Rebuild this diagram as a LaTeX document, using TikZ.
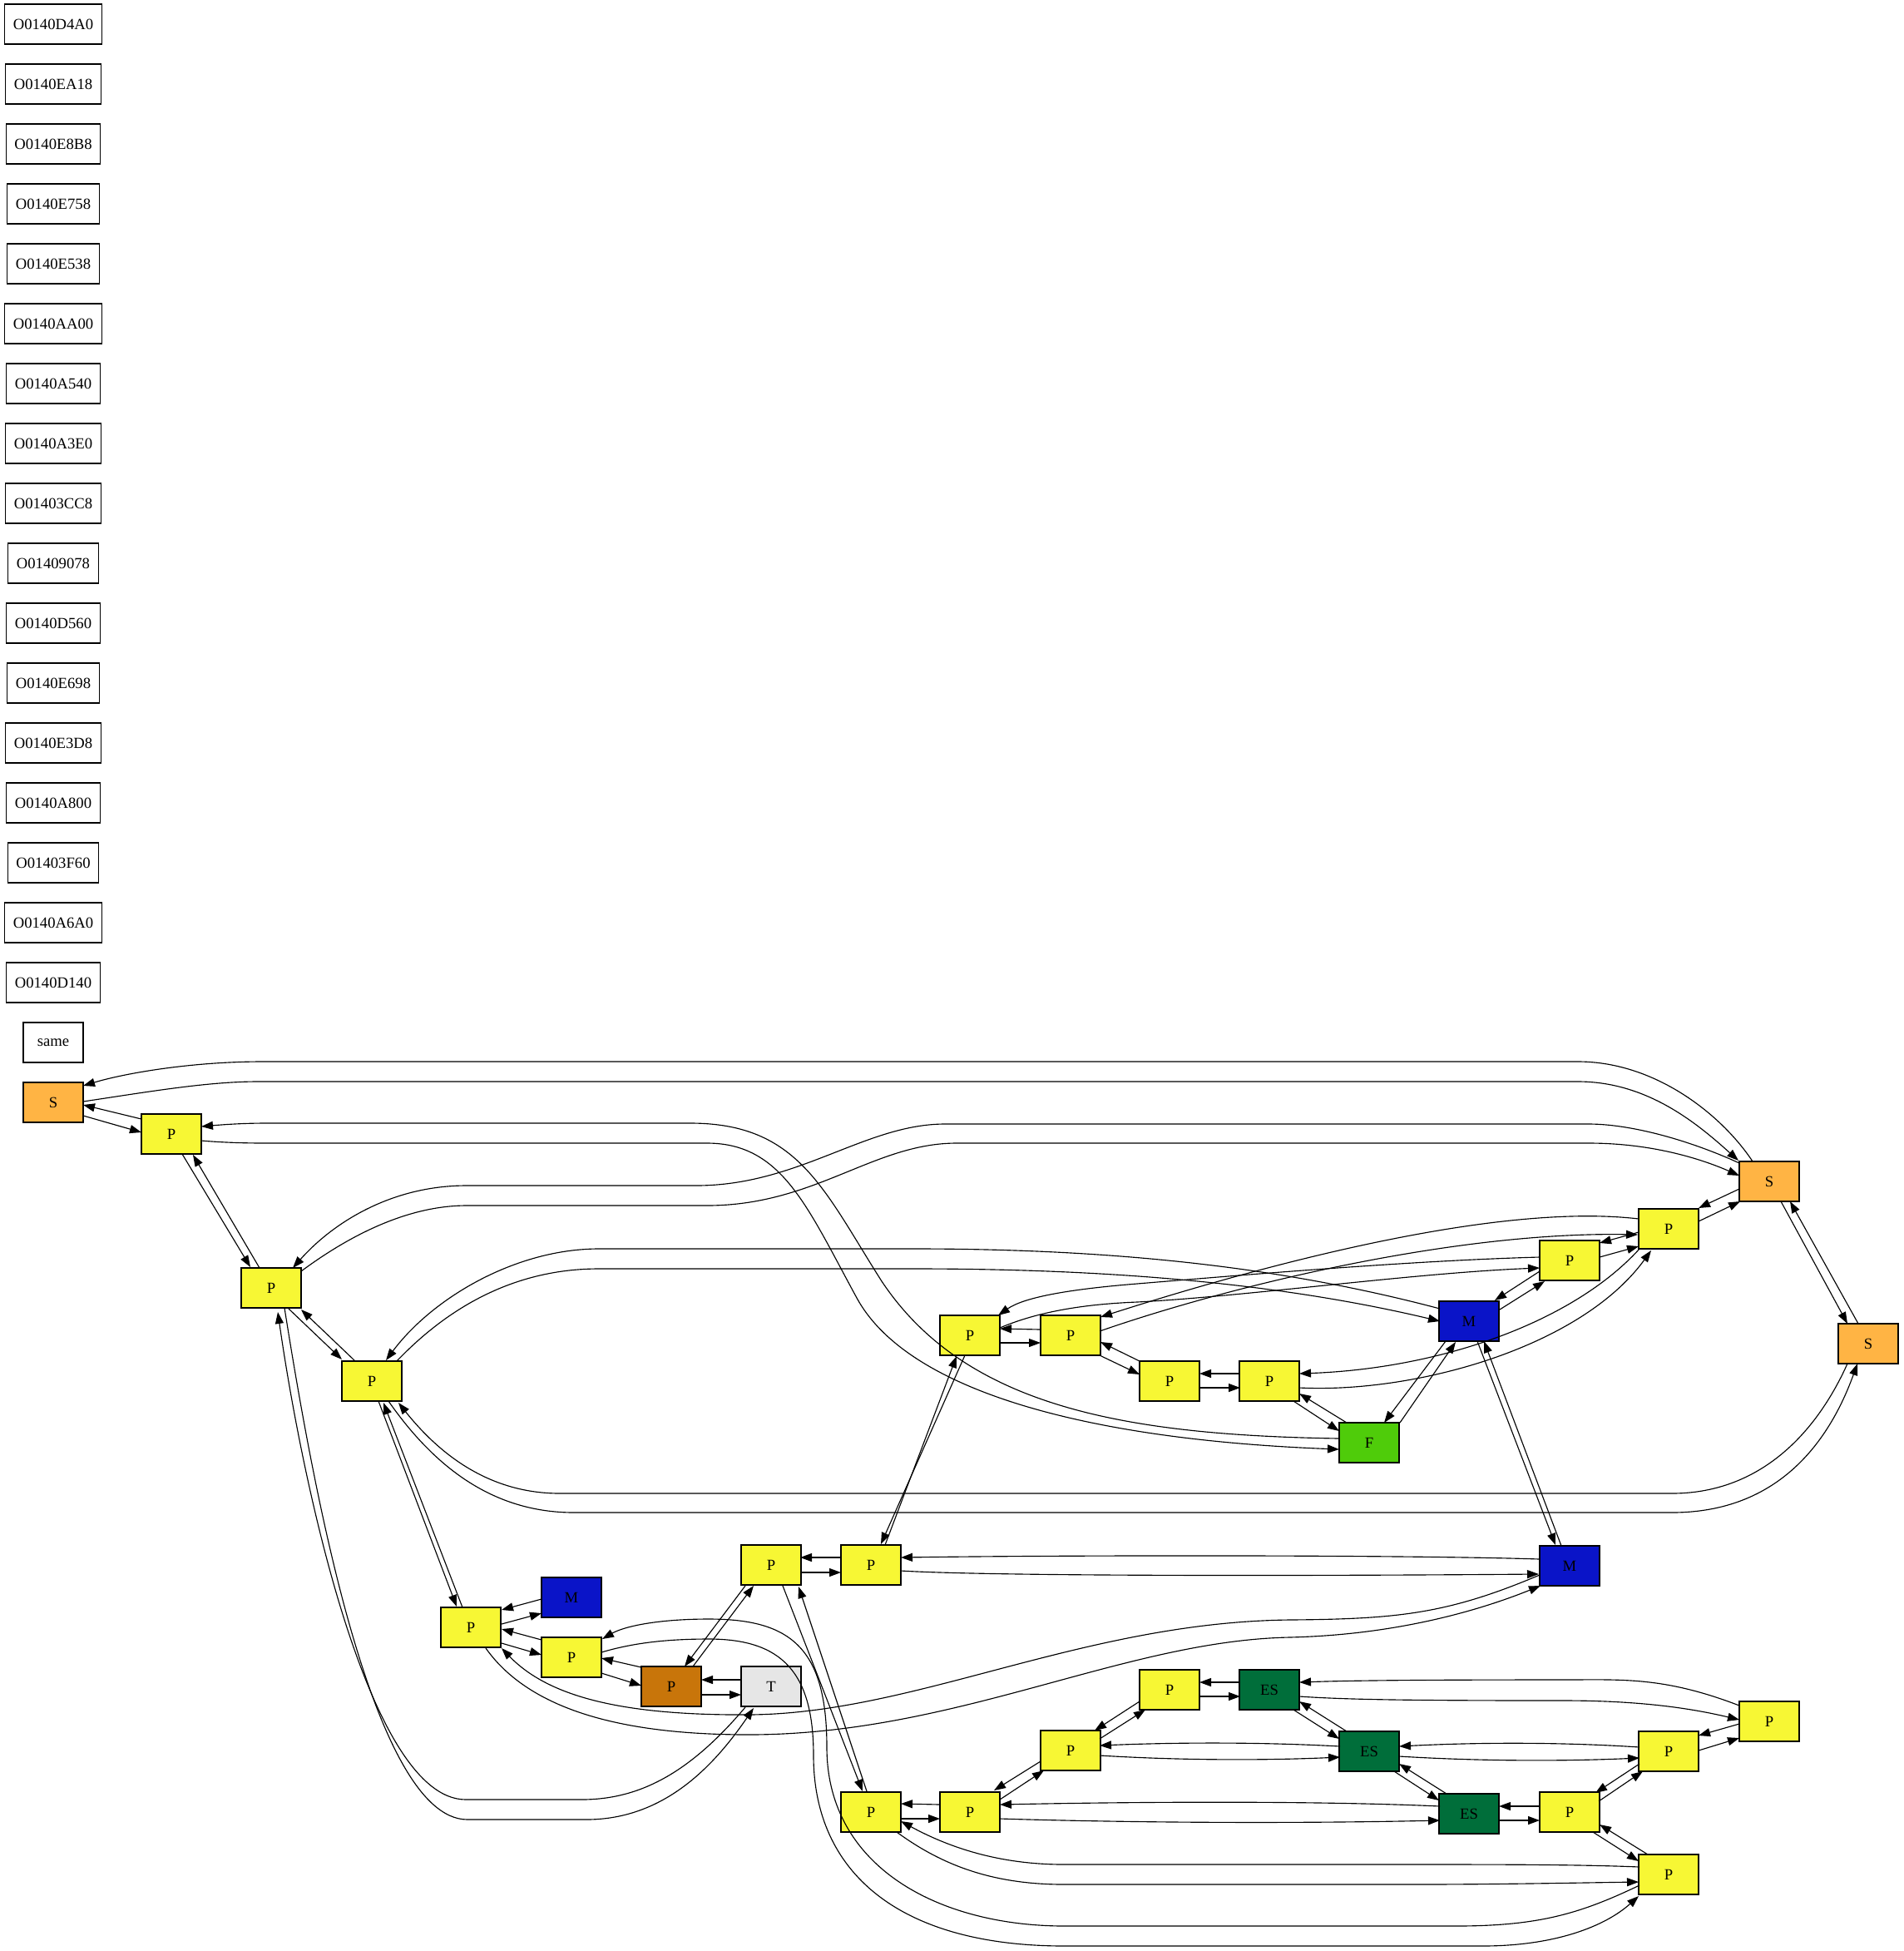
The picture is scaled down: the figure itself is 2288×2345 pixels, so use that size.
\documentclass[tikz,border=0pt]{standalone}
\usepackage{fontspec}
\setmainfont{Liberation Serif}
\usetikzlibrary{arrows.meta,calc}
\definecolor{pyel}{HTML}{F7F734}
\definecolor{sor}{HTML}{FFB444}
\definecolor{mblue}{HTML}{0A14C8}
\definecolor{fgreen}{HTML}{4FCC0A}
\definecolor{esgreen}{HTML}{006E3A}
\definecolor{pbrown}{HTML}{C8750A}
\definecolor{tgrey}{HTML}{E6E6E6}
\begin{document}
\begin{tikzpicture}[x=0.75pt,y=-0.75pt,
  nd/.style={draw=black, line width=0.8pt, rectangle, minimum width=54pt, minimum height=36pt, inner xsep=7.5pt, inner ysep=0pt, font=\fontsize{14}{16}\selectfont},
  obox/.style={nd, fill=white},
  pbox/.style={nd, fill=pyel},
  sbox/.style={nd, fill=sor},
  mbox/.style={nd, fill=mblue},
  fbox/.style={nd, fill=fgreen},
  esbox/.style={nd, fill=esgreen},
  brbox/.style={nd, fill=pbrown},
  tbox/.style={nd, fill=tgrey},
  ed/.style={draw=black, line width=0.85pt, -{Triangle[length=10.5pt,width=7.5pt]}}]
\fill[white] (0,0) rectangle (2288,2345);
\path[use as bounding box] (0,0) rectangle (2288,2345);

% column of labelled boxes
\foreach \t [count=\i from 0] in {O0140D4A0,O0140EA18,O0140E8B8,O0140E758,O0140E538,O0140AA00,O0140A540,O0140A3E0,O01403CC8,O01409078,O0140D560,O0140E698,O0140E3D8,O0140A800,O01403F60,O0140A6A0,O0140D140,same}
  \node[obox] (O\i) at (64,29+72*\i) {\t};

% nodes
\node[sbox] (S1) at (64,1325) {S};
\node[pbox] (Pa) at (206,1363) {P};
\node[pbox] (Pb) at (326,1548) {P};
\node[pbox] (Pc) at (447,1660) {P};
\node[sbox] (S2) at (2127,1420) {S};
\node[sbox] (S3) at (2246,1615) {S};
\node[pbox] (Pd) at (2006,1477) {P};
\node[pbox] (Pe) at (1887,1515) {P};
\node[mbox] (M1) at (1766,1588) {M};
\node[pbox] (Pf) at (1166,1605) {P};
\node[pbox] (Pg) at (1287,1605) {P};
\node[pbox] (Ph) at (1406,1660) {P};
\node[pbox] (Pi) at (1526,1660) {P};
\node[fbox] (F) at (1646,1734) {F};
\node[mbox] (M3) at (1887,1882) {M};
\node[pbox] (Pl) at (927,1881) {P};
\node[pbox] (Pm) at (1047,1881) {P};
\node[pbox] (Pj) at (566,1956) {P};
\node[mbox] (M2) at (687,1920) {M};
\node[pbox] (Pk) at (687,1992) {P};
\node[brbox] (Pbr) at (807,2027) {P};
\node[tbox] (T) at (927,2027) {T};
\node[pbox] (Pq) at (1406,2031) {P};
\node[esbox] (ES1) at (1526,2031) {ES};
\node[pbox] (Pt) at (2127,2069) {P};
\node[pbox] (Pp) at (1287,2104) {P};
\node[esbox] (ES2) at (1646,2105) {ES};
\node[pbox] (Ps) at (2006,2105) {P};
\node[pbox] (Pn) at (1047,2178) {P};
\node[pbox] (Po) at (1166,2178) {P};
\node[esbox] (ES3) at (1766,2180) {ES};
\node[pbox] (Pr) at (1887,2178) {P};
\node[pbox] (Pu) at (2006,2253) {P};

% S1 / Pa / Pb / Pc
\draw[ed] ($(S1)+(36,16)$) -- ($(Pa)+(-36,-2)$);
\draw[ed] ($(Pa)+(-36,-18)$) -- ($(S1)+(36,3)$);
\draw[ed] ($(S2)+(-20,-24)$) .. controls (2070,1340) and (1990,1276) .. (1897,1276) -- (316,1276) .. controls (230,1276) and (150,1290) .. ($(S1)+(36,-20)$);
\draw[ed] ($(S1)+(36,-1)$) .. controls (180,1312) and (250,1300) .. (310,1300) -- (1897,1300) .. controls (1980,1300) and (2040,1350) .. ($(S2)+(-37,-25)$);
\draw[ed] ($(S2)+(-36,-22)$) .. controls (2030,1370) and (1960,1351) .. (1910,1351) -- (1136,1351) .. controls (1040,1351) and (960,1425) .. (837,1425) -- (561,1425) .. controls (470,1425) and (400,1470) .. ($(Pb)+(26,-24)$);
\draw[ed] ($(Pb)+(36,-20)$) .. controls (420,1485) and (490,1449) .. (561,1449) -- (850,1449) .. controls (980,1449) and (1050,1374) .. (1150,1374) -- (1910,1374) .. controls (1990,1374) and (2050,1395) .. ($(S2)+(-36,-7)$);
\draw[ed] ($(F)+(-36,-5)$) .. controls (1350,1725) and (1160,1690) .. (1060,1540) .. controls (990,1430) and (960,1350) .. (830,1350) -- (320,1350) .. controls (290,1350) and (265,1352) .. ($(Pa)+(36,-9)$);
\draw[ed] ($(Pa)+(36,8)$) .. controls (265,1373) and (290,1374) .. (320,1374) -- (850,1374) .. controls (940,1374) and (970,1450) .. (1030,1560) .. controls (1090,1670) and (1300,1730) .. ($(F)+(-36,8)$);
\draw[ed] ($(Pa)+(13,24)$) -- ($(Pb)+(-25,-25)$);
\draw[ed] ($(Pb)+(-14,-24)$) -- ($(Pa)+(26,25)$);
\draw[ed] ($(Pb)+(21,25)$) -- ($(Pc)+(-36,-26)$);
\draw[ed] ($(Pc)+(-21,-25)$) -- ($(Pb)+(36,26)$);
\draw[ed] ($(M1)+(-35,-15)$) .. controls (1550,1525) and (1350,1501) .. (1100,1501) -- (720,1501) .. controls (620,1501) and (520,1560) .. ($(Pc)+(17,-25)$);
\draw[ed] ($(Pc)+(30,-24)$) .. controls (540,1570) and (620,1525) .. (720,1525) -- (1100,1525) .. controls (1350,1525) and (1550,1545) .. ($(M1)+(-35,0)$);
\draw[ed] ($(S3)+(-25,24)$) .. controls (2180,1730) and (2110,1795) .. (2010,1795) -- (673,1795) .. controls (590,1795) and (530,1750) .. ($(Pc)+(32,26)$);
\draw[ed] ($(Pc)+(20,24)$) .. controls (520,1760) and (590,1818) .. (690,1818) -- (2010,1818) .. controls (2140,1818) and (2200,1730) .. ($(S3)+(-13,24)$);
\draw[ed] ($(Pc)+(8,24)$) -- ($(Pj)+(-17,-25)$);
\draw[ed] ($(Pj)+(-10,-24)$) -- ($(Pc)+(14,26)$);
\draw[ed] ($(T)+(-31,25)$) .. controls (830,2130) and (770,2163) .. (699,2163) -- (560,2163) .. controls (440,2163) and (360,1760) .. ($(Pb)+(8,29)$);
\draw[ed] ($(Pb)+(16,24)$) .. controls (372,1760) and (445,2187) .. (562,2187) -- (705,2187) .. controls (800,2187) and (860,2120) .. ($(T)+(-21,26)$);

% S2 / S3 / Pd / Pe / M1 group
\draw[ed] ($(S2)+(14,24)$) -- ($(S3)+(-25,-24)$);
\draw[ed] ($(S3)+(-12,-24)$) -- ($(S2)+(25,24)$);
\draw[ed] ($(S2)+(-36,9)$) -- ($(Pd)+(36,-25)$);
\draw[ed] ($(Pd)+(36,-9)$) -- ($(S2)+(-35,24)$);
\draw[ed] ($(Pd)+(-36,4)$) -- ($(Pe)+(36,-21)$);
\draw[ed] ($(Pe)+(36,-4)$) -- ($(Pd)+(-36,21)$);
\draw[ed] ($(Pe)+(-36,13)$) -- ($(M1)+(31,-25)$);
\draw[ed] ($(M1)+(37,-14)$) -- ($(Pe)+(-30,25)$);
\draw[ed] ($(M1)+(-28,24)$) -- ($(F)+(18,-24)$);
\draw[ed] ($(F)+(37,-24)$) -- ($(M1)+(-16,25)$);
\draw[ed] ($(M1)+(10,24)$) -- ($(M3)+(-17,-25)$);
\draw[ed] ($(M3)+(-10,-24)$) -- ($(M1)+(18,24)$);
\draw[ed] ($(Pd)+(-35,24)$) .. controls (1890,1590) and (1730,1645) .. ($(Pi)+(36,-9)$);
\draw[ed] ($(Pi)+(36,8)$) .. controls (1700,1675) and (1900,1620) .. ($(Pd)+(-21,26)$);
\draw[ed] ($(Pd)+(-36,-12)$) .. controls (1800,1445) and (1520,1520) .. ($(Pg)+(36,-22)$);
\draw[ed] ($(Pg)+(35,-5)$) .. controls (1480,1545) and (1750,1480) .. ($(Pd)+(-37,7)$);
\draw[ed] ($(Pe)+(-36,-4)$) .. controls (1700,1515) and (1500,1532) .. (1367,1543) .. controls (1280,1550) and (1230,1560) .. ($(Pf)+(34,-24)$);
\draw[ed] ($(Pf)+(36,-9)$) .. controls (1240,1580) and (1290,1568) .. (1367,1565) .. controls (1500,1558) and (1700,1530) .. ($(Pe)+(-36,9)$);
\draw[ed] ($(Pg)+(-36,-7)$) -- ($(Pf)+(36,-8)$);
\draw[ed] ($(Pf)+(36,9)$) -- ($(Pg)+(-36,9)$);
\draw[ed] ($(Ph)+(-36,-24)$) -- ($(Pg)+(36,8)$);
\draw[ed] ($(Pg)+(35,24)$) -- ($(Ph)+(-36,-8)$);
\draw[ed] ($(Pi)+(-35,-9)$) -- ($(Ph)+(36,-9)$);
\draw[ed] ($(Ph)+(36,8)$) -- ($(Pi)+(-35,8)$);
\draw[ed] ($(Pi)+(29,24)$) -- ($(F)+(-36,-14)$);
\draw[ed] ($(F)+(-27,-24)$) -- ($(Pi)+(36,15)$);
\draw[ed] ($(Pf)+(-6,24)$) -- ($(Pm)+(12,-25)$);
\draw[ed] ($(Pm)+(17,-24)$) -- ($(Pf)+(-16,25)$);

% middle-left group
\draw[ed] ($(M2)+(-36,2)$) -- ($(Pj)+(37,-21)$);
\draw[ed] ($(Pj)+(37,-4)$) -- ($(M2)+(-36,19)$);
\draw[ed] ($(Pk)+(-36,-21)$) -- ($(Pj)+(37,2)$);
\draw[ed] ($(Pj)+(37,19)$) -- ($(Pk)+(-36,-3)$);
\draw[ed] ($(Pbr)+(-36,-23)$) -- ($(Pk)+(36,1)$);
\draw[ed] ($(Pk)+(36,19)$) -- ($(Pbr)+(-36,-1)$);
\draw[ed] ($(T)+(-36,-8)$) -- ($(Pbr)+(36,-8)$);
\draw[ed] ($(Pbr)+(36,10)$) -- ($(T)+(-36,10)$);
\draw[ed] ($(Pl)+(-31,25)$) -- ($(Pbr)+(16,-24)$);
\draw[ed] ($(Pbr)+(26,-24)$) -- ($(Pl)+(-21,25)$);
\draw[ed] ($(Pm)+(-36,-9)$) -- ($(Pl)+(35,-9)$);
\draw[ed] ($(Pl)+(35,9)$) -- ($(Pm)+(-36,9)$);
\draw[ed] ($(Pl)+(14,25)$) -- ($(Pn)+(-10,-25)$);
\draw[ed] ($(Pn)+(-5,-25)$) -- ($(Pl)+(33,26)$);
\draw[ed] ($(Pm)+(36,7)$) .. controls (1200,1895) and (1600,1894) .. ($(M3)+(-37,10)$);
\draw[ed] ($(M3)+(-36,-8)$) .. controls (1700,1869) and (1300,1869) .. ($(Pm)+(36,-9)$);
\draw[ed] ($(M3)+(-36,11)$) .. controls (1740,1940) and (1680,1946) .. (1550,1947) .. controls (1300,1950) and (1100,2060) .. (900,2061) .. controls (750,2062) and (660,2040) .. ($(Pj)+(37,25)$);
\draw[ed] ($(Pj)+(18,25)$) .. controls (640,2060) and (760,2085) .. (900,2085) .. controls (1150,2085) and (1350,1972) .. (1550,1968) .. controls (1680,1965) and (1780,1935) .. ($(M3)+(-35,24)$);
\draw[ed] ($(Pu)+(-35,13)$) .. controls (1900,2300) and (1850,2315) .. (1750,2315) -- (1280,2315) .. controls (1130,2315) and (994,2245) .. (994,2100) .. controls (994,1980) and (950,1946) .. (852,1946) .. controls (790,1946) and (750,1955) .. ($(Pk)+(37,-22)$);
\draw[ed] ($(Pk)+(36,-6)$) .. controls (760,1975) and (800,1970) .. (852,1970) .. controls (940,1970) and (978,2010) .. (978,2110) .. controls (978,2250) and (1080,2339) .. (1280,2339) -- (1782,2339) .. controls (1870,2339) and (1930,2315) .. ($(Pu)+(-36,26)$);

% bottom group
\draw[ed] ($(Pu)+(-35,-9)$) .. controls (1900,2241) and (1800,2241) .. (1700,2241) -- (1279,2241) .. controls (1200,2241) and (1140,2220) .. ($(Pn)+(36,11)$);
\draw[ed] ($(Pn)+(31,24)$) .. controls (1130,2240) and (1190,2265) .. (1279,2265) -- (1700,2265) .. controls (1800,2265) and (1900,2263) .. ($(Pu)+(-36,9)$);
\draw[ed] ($(Po)+(-36,-9)$) -- ($(Pn)+(36,-10)$);
\draw[ed] ($(Pn)+(36,8)$) -- ($(Po)+(-36,8)$);
\draw[ed] ($(Pp)+(-36,13)$) -- ($(Po)+(29,-26)$);
\draw[ed] ($(Po)+(36,-15)$) -- ($(Pp)+(-32,24)$);
\draw[ed] ($(Pq)+(-36,14)$) -- ($(Pp)+(29,-24)$);
\draw[ed] ($(Pp)+(35,-14)$) -- ($(Pq)+(-29,24)$);
\draw[ed] ($(ES1)+(-35,-9)$) -- ($(Pq)+(36,-9)$);
\draw[ed] ($(Pq)+(36,8)$) -- ($(ES1)+(-35,8)$);
\draw[ed] ($(ES1)+(29,24)$) -- ($(ES2)+(-36,-15)$);
\draw[ed] ($(ES2)+(-27,-24)$) -- ($(ES1)+(36,14)$);
\draw[ed] ($(Pt)+(-36,-19)$) .. controls (2000,2015) and (1950,2019) .. (1880,2019) .. controls (1700,2019) and (1620,2020) .. ($(ES1)+(36,-9)$);
\draw[ed] ($(ES1)+(36,8)$) .. controls (1620,2043) and (1700,2044) .. (1880,2044) .. controls (1980,2044) and (2040,2055) .. ($(Pt)+(-36,-2)$);
\draw[ed] ($(ES2)+(-35,-6)$) .. controls (1520,2094) and (1420,2094) .. ($(Pp)+(35,-6)$);
\draw[ed] ($(Pp)+(35,6)$) .. controls (1420,2116) and (1520,2116) .. ($(ES2)+(-35,7)$);
\draw[ed] ($(Ps)+(-35,-5)$) .. controls (1880,2094) and (1780,2094) .. ($(ES2)+(36,-6)$);
\draw[ed] ($(ES2)+(36,6)$) .. controls (1780,2117) and (1880,2117) .. ($(Ps)+(-35,8)$);
\draw[ed] ($(ES2)+(30,24)$) -- ($(ES3)+(-36,-16)$);
\draw[ed] ($(ES3)+(-27,-24)$) -- ($(ES2)+(36,15)$);
\draw[ed] ($(ES3)+(-35,-9)$) .. controls (1600,2165) and (1400,2165) .. ($(Po)+(36,-9)$);
\draw[ed] ($(Po)+(36,8)$) .. controls (1400,2192) and (1600,2191) .. ($(ES3)+(-35,8)$);
\draw[ed] ($(Pr)+(-36,-7)$) -- ($(ES3)+(36,-9)$);
\draw[ed] ($(ES3)+(36,8)$) -- ($(Pr)+(-36,10)$);
\draw[ed] ($(Ps)+(-35,15)$) -- ($(Pr)+(31,-23)$);
\draw[ed] ($(Pr)+(35,-13)$) -- ($(Ps)+(-31,24)$);
\draw[ed] ($(Pt)+(-36,3)$) -- ($(Ps)+(36,-19)$);
\draw[ed] ($(Ps)+(36,-1)$) -- ($(Pt)+(-36,20)$);
\draw[ed] ($(Pu)+(-25,-24)$) -- ($(Pr)+(36,15)$);
\draw[ed] ($(Pr)+(28,24)$) -- ($(Pu)+(-36,-16)$);
\end{tikzpicture}
\end{document}
